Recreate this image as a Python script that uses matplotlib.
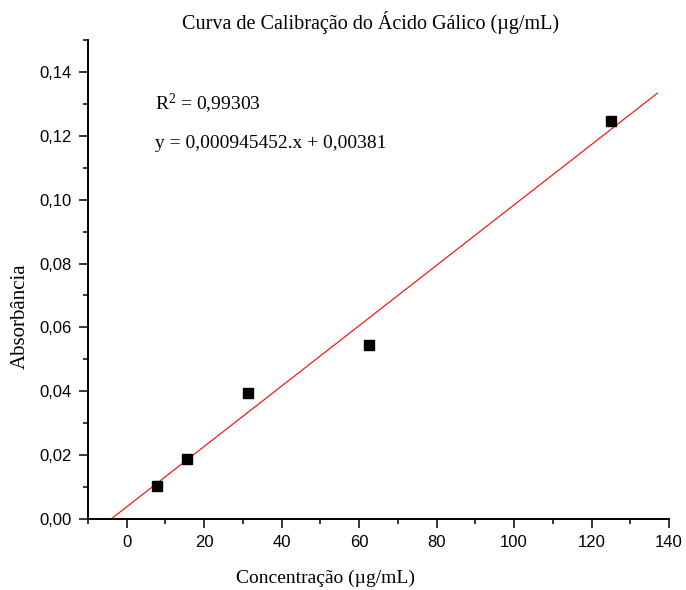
import matplotlib
matplotlib.use("Agg")
import matplotlib.pyplot as plt
import numpy as np
from matplotlib.ticker import MultipleLocator, FuncFormatter

conc = [7.8, 15.6, 31.25, 62.5, 125.0]
absorb = [0.0104, 0.0189, 0.0395, 0.0546, 0.1247]
slope = 0.000945452
intercept = 0.00381
r2_text = "R$^2$ = 0,99303"
eq_text = "y = 0,000945452.x + 0,00381"
fit_x_end = 137.0

serif = "Liberation Serif"
sans = "Liberation Sans"
plt.rcParams["mathtext.fontset"] = "custom"
plt.rcParams["mathtext.rm"] = serif
plt.rcParams["mathtext.it"] = serif + ":italic"
plt.rcParams["mathtext.bf"] = serif + ":bold"

fig = plt.figure(figsize=(6.86, 5.90), dpi=100)
ax = fig.add_axes([88/686, 1-519/590, (669-88)/686, (519-40)/590])

ax.plot(conc, absorb, "s", color="black", markersize=6.5, zorder=3)
fx0 = -intercept / slope
fx = np.array([fx0, fit_x_end])
ax.plot(fx, slope * fx + intercept, color="red", linewidth=0.8)

ax.set_xlim(-10, 140)
ax.set_ylim(0, 0.15)
ax.xaxis.set_major_locator(MultipleLocator(20))
ax.xaxis.set_minor_locator(MultipleLocator(10))
ax.yaxis.set_major_locator(MultipleLocator(0.02))
ax.yaxis.set_minor_locator(MultipleLocator(0.01))
ax.yaxis.set_major_formatter(FuncFormatter(lambda v, p: f"{v:.2f}".replace(".", ",")))
ax.xaxis.set_major_formatter(FuncFormatter(lambda v, p: f"{v:.0f}"))

for s in ["top", "right"]:
    ax.spines[s].set_visible(False)
for s in ["left", "bottom"]:
    ax.spines[s].set_linewidth(1.4)
ax.tick_params(which="major", direction="out", length=6.5, width=1.1, labelsize=12, pad=5)
ax.tick_params(which="minor", direction="out", length=3.5, width=1.1)
for lab in ax.get_xticklabels() + ax.get_yticklabels():
    lab.set_fontfamily(sans)

fig.text(325/686, 1-578/590, "Concentração (µg/mL)", fontfamily=serif, fontsize=14,
         ha="center", va="center")
fig.text(20/686, 1-316/590, "Absorbância", fontfamily=serif, fontsize=15,
         ha="center", va="center", rotation=90)
fig.text(370/686, 1-22/590, "Curva de Calibração do Ácido Gálico (µg/mL)",
         fontfamily=serif, fontsize=14.5, ha="center", va="center")

ax.text(7.3, 0.130, r2_text, fontfamily=serif, fontsize=14, va="center", ha="left")
ax.text(7.3, 0.1176, eq_text, fontfamily=serif, fontsize=14, va="center", ha="left")

fig.savefig("out.png", dpi=100)
